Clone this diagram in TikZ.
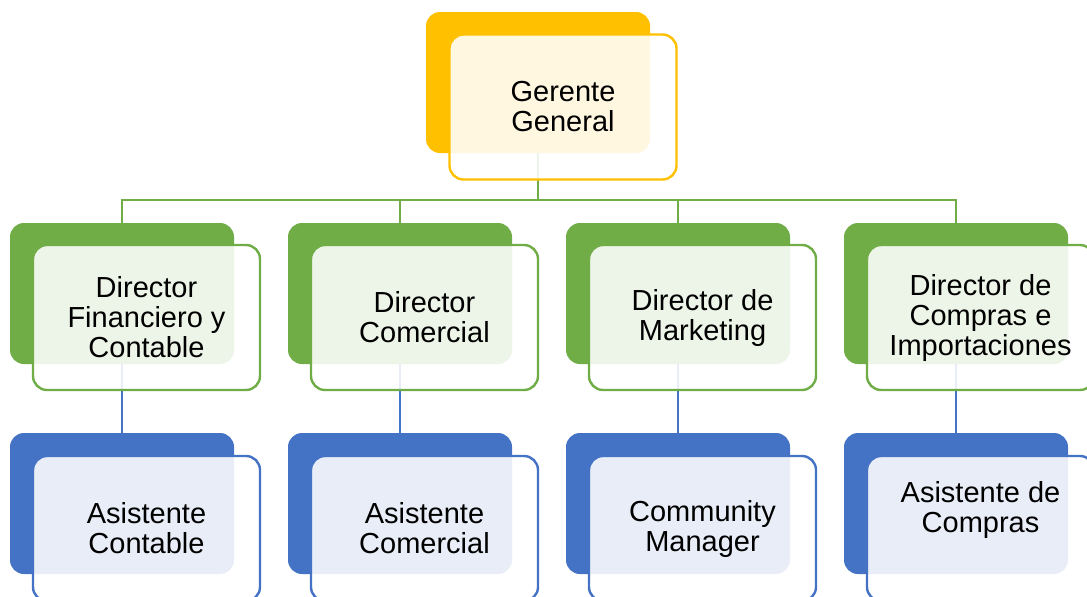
\documentclass[tikz,border=0pt]{standalone}
\usepackage{fontspec}
\setmainfont{Liberation Sans}
\definecolor{gold}{HTML}{FFC000}
\definecolor{grn}{HTML}{70AD47}
\definecolor{blu}{HTML}{4472C4}
\tikzset{
  backbox/.style={rectangle, rounded corners=14pt, fill=#1, draw=none, minimum width=224pt, minimum height=141pt, inner sep=0pt},
  frontbox/.style={rectangle, rounded corners=14pt, fill=white, fill opacity=0.88, text opacity=1, draw=#1, line width=2.4pt, minimum width=227pt, minimum height=145pt, inner sep=0pt, align=center, font=\fontsize{29}{30}\selectfont},
  conn/.style={draw=#1, line width=2.2pt},
}
\begin{document}
\begin{tikzpicture}[x=1pt,y=-1pt]
\useasboundingbox (0,0) rectangle (1087,597);
% back boxes
\node[backbox=gold] (gb) at (538,82.5) {};
\foreach \i/\x in {1/10,2/288,3/566,4/844}{
  \node[backbox=grn] (d\i b) at (\x+112,293.5) {};
  \node[backbox=blu] (a\i b) at (\x+112,503.5) {};
}
% connectors
\coordinate (bus) at (538,200);
\draw[conn=grn] (gb.south) -- (bus) -| (d1b.north);
\draw[conn=grn] (bus) -| (d2b.north);
\draw[conn=grn] (bus) -| (d3b.north);
\draw[conn=grn] (bus) -| (d4b.north);
\foreach \i in {1,2,3,4}{
  \draw[conn=blu] (d\i b.south) -- (a\i b.north);
}
% front boxes
\node[frontbox=gold] (g) at (563,107) {Gerente\\General};
\node[frontbox=grn] (d1) at (146.5,317.5) {Director\\Financiero y\\Contable};
\node[frontbox=grn] (d2) at (424.5,317.5) {Director\\Comercial};
\node[frontbox=grn] (d3) at (702.5,317.5) {Director de\\Marketing};
\node[frontbox=grn] (d4) at (980.5,317.5) {Director de\\Compras e\\Importaciones};
\node[frontbox=blu] (a1) at (146.5,528.5) {Asistente\\Contable};
\node[frontbox=blu] (a2) at (424.5,528.5) {Asistente\\Comercial};
\node[frontbox=blu] (a3) at (702.5,528.5) {Community\\Manager};
\node[frontbox=blu, text depth=44pt] (a4) at (980.5,528.5) {Asistente de\\Compras};
\end{tikzpicture}
\end{document}
